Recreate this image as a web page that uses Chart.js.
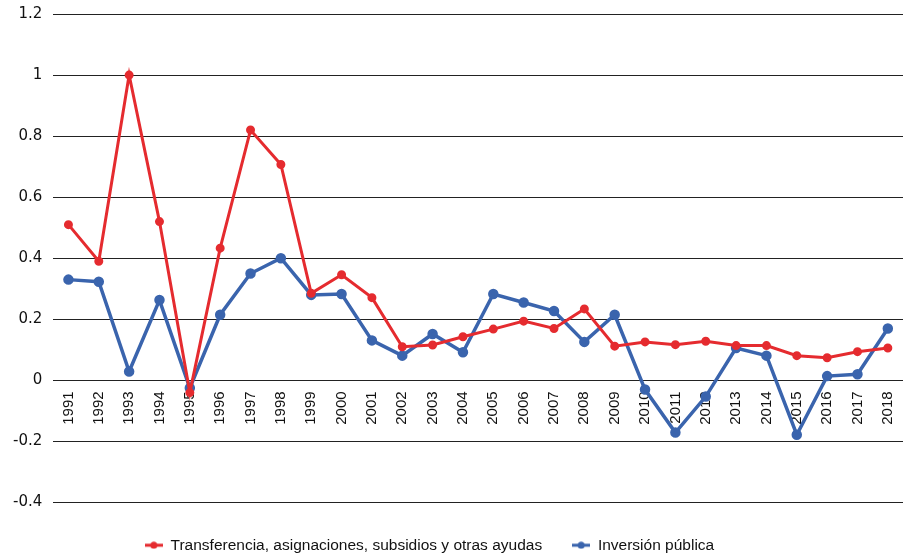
<!DOCTYPE html>
<html>
<head>
<meta charset="utf-8">
<script src="https://cdn.jsdelivr.net/npm/chart.js@4/dist/chart.umd.min.js"></script>
<style>
  html, body { margin: 0; padding: 0; background: #fff; overflow: hidden; }
  canvas { display: block; }
</style>
</head>
<body>
<canvas id="chart" width="903" height="558"></canvas>
<script>
const years = ['1991', '1992', '1993', '1994', '1995', '1996', '1997', '1998', '1999', '2000',
  '2001', '2002', '2003', '2004', '2005', '2006', '2007', '2008', '2009', '2010',
  '2011', '2012', '2013', '2014', '2015', '2016', '2017', '2018'];

const transferencias = [0.51, 0.39, 1.0, 0.52, -0.04, 0.433, 0.82, 0.707, 0.285, 0.346,
  0.271, 0.11, 0.116, 0.143, 0.168, 0.194, 0.17, 0.234, 0.112, 0.126,
  0.117, 0.128, 0.114, 0.114, 0.081, 0.074, 0.094, 0.106];

const inversion = [0.33, 0.323, 0.029, 0.263, -0.025, 0.215, 0.35, 0.40, 0.28, 0.283,
  0.131, 0.081, 0.152, 0.092, 0.283, 0.255, 0.227, 0.126, 0.215, -0.03,
  -0.171, -0.053, 0.106, 0.081, -0.178, 0.014, 0.02, 0.17];

const seriesNames = ['Transferencia, asignaciones, subsidios y otras ayudas', 'Inversión pública'];
const RED = '#e52b2f';
const BLUE = '#3a64ad';

// marcador de leyenda: línea corta con punto
function legendMarker(color) {
  const c = document.createElement('canvas');
  c.width = 18; c.height = 8;
  const g = c.getContext('2d');
  g.strokeStyle = color;
  g.lineWidth = 3;
  g.beginPath(); g.moveTo(0, 4); g.lineTo(18, 4); g.stroke();
  g.fillStyle = color;
  g.beginPath(); g.arc(9, 4, 3.5, 0, Math.PI * 2); g.fill();
  return c;
}

// la leyenda del original está algo más abajo y a la izquierda
const legendShift = {
  id: 'legendShift',
  afterLayout(chart) {
    const l = chart.legend;
    if (!l) return;
    l.left -= 23; l.right -= 23;
    l.top += 5; l.bottom += 5;
  }
};

const font = "'Liberation Sans', Arial, sans-serif";

new Chart(document.getElementById('chart'), {
  type: 'line',
  data: {
    labels: years,
    datasets: [
      {
        label: seriesNames[0],
        data: transferencias,
        borderColor: RED,
        backgroundColor: RED,
        borderWidth: 3,
        pointRadius: 3,
        pointBackgroundColor: RED,
        pointBorderColor: RED,
        tension: 0
      },
      {
        label: seriesNames[1],
        data: inversion,
        borderColor: BLUE,
        backgroundColor: BLUE,
        borderWidth: 3.5,
        pointRadius: 3.5,
        pointBackgroundColor: BLUE,
        pointBorderColor: BLUE,
        tension: 0
      }
    ]
  },
  plugins: [legendShift],
  options: {
    responsive: false,
    animation: false,
    layout: { autoPadding: false, padding: { top: 14, right: 0, left: 2, bottom: 0 } },
    plugins: {
      tooltip: { enabled: false },
      legend: {
        position: 'bottom',
        labels: {
          color: '#111',
          font: { family: font, size: 15.5 },
          usePointStyle: true,
          pointStyleWidth: 18,
          padding: 30,
          generateLabels: (chart) => {
            const items = Chart.defaults.plugins.legend.labels.generateLabels(chart);
            items.forEach((it, i) => { it.pointStyle = legendMarker(i === 0 ? RED : BLUE); });
            return items;
          }
        }
      }
    },
    scales: {
      x: {
        position: { y: 0 },
        offset: true,
        grid: { display: false },
        border: { display: false },
        afterFit: (s) => { s.paddingLeft = 0; s.paddingRight = 0; },
        ticks: {
          color: '#111',
          font: { family: font, size: 15 },
          minRotation: 90,
          maxRotation: 90,
          autoSkip: false,
          padding: 3
        }
      },
      y: {
        min: -0.4,
        max: 1.2,
        grid: { color: '#222', lineWidth: 1, drawTicks: false },
        border: { display: false },
        afterFit: (s) => { s.paddingTop = 0; s.paddingBottom = 0; },
        ticks: {
          stepSize: 0.2,
          color: '#111',
          font: { family: "'DejaVu Sans', sans-serif", size: 15 },
          padding: 11,
          callback: (v) => String(Number(v.toFixed(1)))
        }
      }
    }
  }
});
</script>
</body>
</html>
